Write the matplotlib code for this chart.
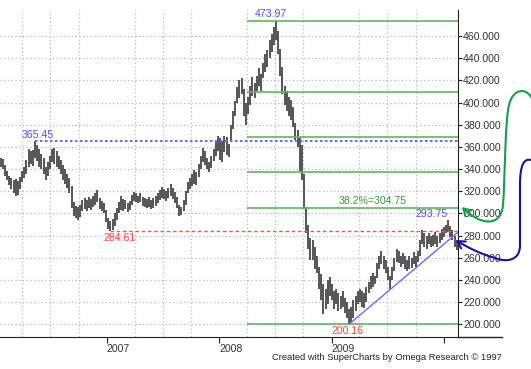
import numpy as np
import pandas as pd
import matplotlib
matplotlib.use('Agg')
import matplotlib.pyplot as plt
import matplotlib.dates as mdates
from matplotlib.path import Path
from matplotlib.patches import FancyArrowPatch
from matplotlib.lines import Line2D
import matplotlib.transforms as mtrans

plt.rcParams['font.family'] = ['Liberation Sans', 'DejaVu Sans']

################################################################################
# weekly bars, first week ending 2006-01-20
FIRST_WEEK = '2006-01-20'
highs = [350, 349, 344, 338, 334, 332, 330, 331, 329, 333,
         338, 342, 348, 358, 356, 357, 365.45, 362, 358, 354,
         350, 342, 346, 352, 358, 359, 356, 352, 348, 344,
         340, 336, 332, 325, 310, 307, 306, 308, 312, 314,
         312, 315, 313, 316, 318, 321, 314, 311, 309, 303,
         296, 293, 295, 300, 305, 310, 316, 313, 312, 309,
         311, 317, 319, 318, 316, 318, 315, 314, 313, 315,
         312, 314, 316, 318, 321, 324, 322, 320, 323, 327,
         323, 319, 315, 308, 306, 312, 320, 328, 332, 336,
         339, 337, 345, 352, 359, 356, 350, 346, 352, 358,
         366, 370, 368, 365, 370, 369, 363, 380, 392, 401,
         414, 420, 422, 412, 400, 405, 415, 423, 418, 424,
         431, 426, 436, 444, 447, 456, 462, 468, 473.97, 465,
         448, 432, 415, 410, 405, 402, 396, 382, 375, 368,
         362, 336, 306, 290, 278, 276, 270, 262, 252, 245,
         236, 232, 240, 243, 236, 230, 232, 228, 226, 230,
         224, 220, 214, 216, 222, 226, 230, 232, 230, 228,
         234, 238, 244, 246, 244, 255, 262, 266, 262, 258,
         252, 244, 252, 260, 268, 266, 262, 264, 262, 258,
         262, 260, 265, 262, 266, 276, 285, 282, 280, 282,
         280, 281, 283, 280, 282, 286, 288, 290, 293.75, 289,
         285, 280, 276]
lows = [342, 340, 334, 330, 326, 322, 318, 316, 317, 322,
        328, 332, 336, 342, 345, 343, 350, 347, 342, 340,
        336, 330, 334, 340, 346, 345, 342, 340, 336, 330,
        327, 323, 318, 305, 298, 296, 294, 297, 302, 304,
        302, 305, 303, 306, 308, 310, 304, 302, 300, 292,
        286, 284.61, 285, 289, 294, 300, 303, 302, 304, 301,
        303, 308, 311, 310, 309, 310, 307, 306, 305, 306,
        304, 305, 307, 309, 312, 314, 313, 311, 314, 316,
        313, 309, 305, 298, 299, 302, 308, 318, 322, 325,
        327, 326, 333, 340, 346, 344, 340, 337, 341, 347,
        352, 356, 348, 346, 355, 353, 351, 366, 376, 388,
        400, 404, 408, 388, 380, 390, 398, 406, 404, 410,
        415, 410, 422, 428, 432, 440, 446, 452, 456, 444,
        424, 408, 398, 392, 388, 384, 378, 366, 360, 338,
        330, 305, 282, 268, 258, 258, 250, 246, 232, 222,
        209, 214, 218, 226, 222, 214, 218, 212, 214, 216,
        210, 206, 200.16, 202, 206, 212, 218, 220, 216, 215,
        220, 228, 232, 234, 236, 242, 250, 254, 250, 246,
        240, 232, 240, 248, 256, 255, 252, 254, 250, 248,
        250, 251, 254, 252, 256, 262, 272, 270, 268, 272,
        270, 271, 272, 270, 273, 276, 279, 282, 283, 279,
        276, 270, 267]

# marked levels
HIGH_2006 = ('2006-05-12', 365.45)
LOW_2007 = ('2007-01-12', 284.61)
TOP_2008 = 473.97
BOTTOM_2009 = 200.16
FIB_START = '2008-04-01'
fib_levels = [473.97, 409.35, 369.37, 337.07, 304.75, 200.16]
LAST_HIGH = 293.75
trend_pts = [('2009-02-27', 200.16), ('2010-02-17', 283.3)]

years = ['2007', '2008', '2009', '2010']
year_labels = ['2007', '2008', '2009', '']
yticks = list(range(200, 461, 20))

################################################################################
W, H = 531, 369
fig = plt.figure(figsize=(W/100, H/100), dpi=100)
L, R, T, B = 0, 458.3, 10, 337.3
ax = fig.add_axes([L/W, 1-B/H, (R-L)/W, (B-T)/H])

dates = pd.date_range(FIRST_WEEK, periods=len(highs), freq='7D')
ax.vlines(dates, lows, highs, color='#555555', lw=1.4)

x0 = pd.Timestamp('2006-01-18')
x1 = pd.Timestamp('2010-02-17')
ax.set_xlim(x0, x1)
ax.set_ylim(188.3, 483.5)

# levels
ax.hlines(fib_levels, pd.Timestamp(FIB_START), x1, color='#5cb85c', lw=1.2)
ax.hlines(HIGH_2006[1], pd.Timestamp(HIGH_2006[0]), x1, color='#6a6aff', lw=1.5,
          linestyles=(0, (1.2, 1.2)))
ax.hlines(LOW_2007[1], pd.Timestamp(LOW_2007[0]), x1, color='#ff5050', lw=1.0,
          linestyles=(0, (2.5, 2)))
ax.plot([pd.Timestamp(d) for d, v in trend_pts], [v for d, v in trend_pts],
        color='#6a6aff', lw=1.0)

# labels
blue = '#4d4dff'
red = '#ff4040'
green = '#2ea02e'
fs = 7.6
ax.text(pd.Timestamp('2006-03-30'), HIGH_2006[1] + 1, '365.45', color=blue,
        fontsize=fs, va='bottom', ha='left')
ax.text(pd.Timestamp('2008-04-25'), TOP_2008 + 1, '473.97', color=blue,
        fontsize=fs, va='bottom', ha='left')
ax.text(pd.Timestamp('2006-12-20'), LOW_2007[1] - 2.5, '284.61', color=red,
        fontsize=fs, va='top', ha='left')
ax.text(pd.Timestamp('2009-01-01'), BOTTOM_2009 - 1.5, '200.16', color=red,
        fontsize=fs, va='top', ha='left')
ax.text(pd.Timestamp('2009-10-01'), LAST_HIGH + 1, '293.75', color=blue,
        fontsize=fs, va='bottom', ha='left')
ax.text(pd.Timestamp('2009-01-25'), 304.75 + 2, '38.2%=304.75', color=green,
        fontsize=fs, va='bottom', ha='left')

# axes
for s in ['left', 'top']:
    ax.spines[s].set_visible(False)
ax.spines['right'].set_color('#222222')
ax.spines['bottom'].set_color('#222222')
ax.yaxis.tick_right()
ax.set_yticks(yticks)
ax.set_yticklabels([f'{v:.3f}' for v in yticks])
ax.tick_params(axis='y', direction='out', length=3, pad=0.5, labelsize=7.6,
               labelcolor='#333333', color='#222222')
ax.set_xticks([pd.Timestamp(y + '-01-01') for y in years])
ax.set_xticklabels(year_labels)
ax.tick_params(axis='x', direction='out', length=4, pad=0.5, labelsize=7.6,
               labelcolor='#333333', color='#222222')
plt.setp(ax.get_xticklabels(), ha='left')
ax.xaxis.set_minor_locator(mdates.MonthLocator(bymonth=[1, 4, 7, 10]))
ax.tick_params(axis='x', which='minor', length=0)
ax.grid(True, axis='y', which='major', color='#b8b8b8', ls=(0, (1, 2)), lw=0.9)
ax.grid(True, axis='x', which='minor', color='#b8b8b8', ls=(0, (1, 2)), lw=0.9)
ax.set_axisbelow(True)

# pixel coordinates for the figure decorations
px = mtrans.Affine2D().scale(1/W, -1/H).translate(0, 1) + fig.transFigure
fig.add_artist(Line2D([R, 502], [B, B], color='#222222', lw=1, transform=px))
fig.text(272/W, 1-358/H, 'Created with SuperCharts by Omega Research \u00a9 1997',
         fontsize=6.75, color='#222222', va='center', ha='left')

C4, LT, MV = Path.CURVE4, Path.LINETO, Path.MOVETO
green_path = Path([(531, 97), (526, 88), (513, 88), (509, 105),
                   (505, 120), (505, 180), (503, 205),
                   (501, 228), (480, 225), (462, 207)],
                  [MV, C4, C4, C4, C4, C4, C4, C4, C4, C4])
blue_path = Path([(531, 160), (524, 158), (520, 165), (520, 185),
                  (520, 245),
                  (520, 262), (505, 262), (495, 258),
                  (480, 254), (465, 246), (456, 240)],
                 [MV, C4, C4, C4, LT, C4, C4, C4, C4, C4, C4])
for p, c in [(green_path, '#14a04a'), (blue_path, '#1414a0')]:
    fig.add_artist(FancyArrowPatch(path=p, transform=px, color=c, lw=1.5,
                                   arrowstyle='->,head_length=5,head_width=3'))

fig.savefig('out.png', dpi=100)
